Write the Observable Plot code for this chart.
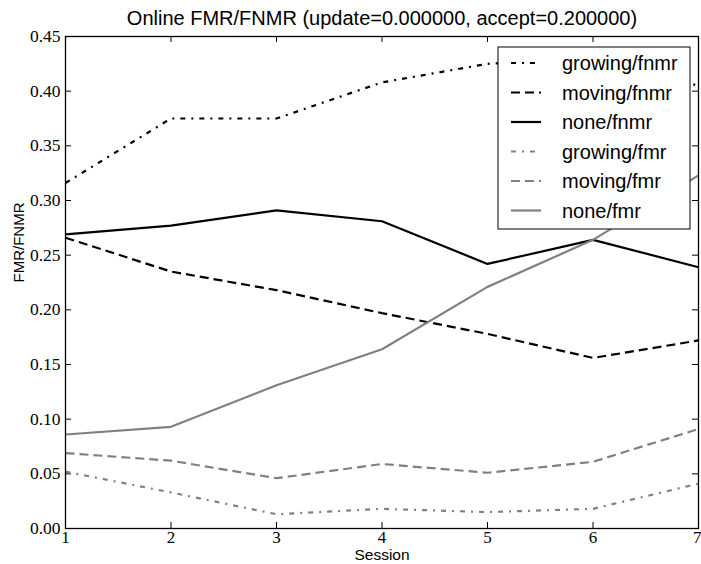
<!DOCTYPE html>
<html>
<head>
<meta charset="utf-8">
<script src="https://cdn.jsdelivr.net/npm/d3@7"></script>
<script src="https://cdn.jsdelivr.net/npm/@observablehq/plot@0.6"></script>
<style>
  html, body { margin: 0; padding: 0; background: #fff; }
  #chart svg { display: block; }
</style>
</head>
<body>
<div id="chart"></div>
<script>
const sessions = [1, 2, 3, 4, 5, 6, 7];
const growingFnmr = [0.316, 0.375, 0.375, 0.408, 0.425, 0.430, 0.405];
const movingFnmr  = [0.266, 0.235, 0.218, 0.197, 0.178, 0.156, 0.172];
const noneFnmr    = [0.269, 0.277, 0.291, 0.281, 0.242, 0.264, 0.239];
const growingFmr  = [0.052, 0.033, 0.013, 0.018, 0.015, 0.018, 0.041];
const movingFmr   = [0.069, 0.062, 0.046, 0.059, 0.051, 0.061, 0.091];
const noneFmr     = [0.086, 0.093, 0.131, 0.164, 0.221, 0.264, 0.323];

const seriesNames = ["growing/fnmr", "moving/fnmr", "none/fnmr", "growing/fmr", "moving/fmr", "none/fmr"];
const seriesValues = [growingFnmr, movingFnmr, noneFnmr, growingFmr, movingFmr, noneFmr];
const yTicks = [0, 0.05, 0.10, 0.15, 0.20, 0.25, 0.30, 0.35, 0.40, 0.45];
const xTicks = [1, 2, 3, 4, 5, 6, 7];

const titleText = "Online FMR/FNMR (update=0.000000, accept=0.200000)";
const xLabel = "Session";
const yLabel = "FMR/FNMR";

const styleFor = (name) => ({
  stroke: name.endsWith("fnmr") ? "#000000" : "#808080",
  dash: name.startsWith("growing") ? "5,6,2,6" : name.startsWith("moving") ? "9,5" : null
});

const W = 701, H = 564;
const mL = 65, mR = 3, mT = 36, mB = 36;
const plotW = W - mL - mR, plotH = H - mT - mB;
const tickLen = 6;

const rows = [];
seriesNames.forEach((name, i) => {
  seriesValues[i].forEach((v, j) => rows.push({series: name, session: sessions[j], value: v}));
});

const lineMarks = seriesNames.map((name) => {
  const s = styleFor(name);
  return Plot.line(rows.filter(d => d.series === name), {
    x: "session", y: "value",
    stroke: s.stroke, strokeWidth: 2.2, strokeDasharray: s.dash,
    strokeLinejoin: "miter", strokeLinecap: "butt"
  });
});

const serif = "'Liberation Serif', 'DejaVu Serif', serif";
const sans = "'Liberation Sans', Arial, sans-serif";

const xTickStyle = {frameAnchor: "bottom", dy: 2, lineAnchor: "top", fontFamily: serif, fontSize: 17, fill: "#000"};

const chart = Plot.plot({
  width: W, height: H,
  marginLeft: mL, marginRight: mR, marginTop: mT, marginBottom: mB,
  style: {fontFamily: sans, fontSize: "17px", color: "#000", background: "#fff", overflow: "visible"},
  x: {domain: [1, 7], axis: null},
  y: {domain: [0, 0.45], axis: null},
  marks: [
    // tick labels (serif, like the reference)
    Plot.text(yTicks, {y: d => d, text: d => d.toFixed(2), frameAnchor: "left", dx: -5, textAnchor: "end",
      fontFamily: serif, fontSize: 17.5, fill: "#000", lineAnchor: "middle"}),
    Plot.text(xTicks.slice(0, -1), {x: d => d, text: d => String(d), ...xTickStyle}),
    Plot.text(xTicks.slice(-1), {x: d => d, text: d => String(d), ...xTickStyle, textAnchor: "end", dx: 3}),
    // inward ticks on all four sides
    Plot.ruleY(yTicks, {y: d => d, insetRight: plotW - tickLen, stroke: "#000", strokeWidth: 1}),
    Plot.ruleY(yTicks, {y: d => d, insetLeft: plotW - tickLen, stroke: "#000", strokeWidth: 1}),
    Plot.ruleX(xTicks, {x: d => d, insetTop: plotH - tickLen, stroke: "#000", strokeWidth: 1}),
    Plot.ruleX(xTicks, {x: d => d, insetBottom: plotH - tickLen, stroke: "#000", strokeWidth: 1}),
    ...lineMarks,
    Plot.frame({stroke: "#000", strokeWidth: 1.3}),
    Plot.text([titleText], {text: d => d, frameAnchor: "top", dy: -18, fontFamily: sans, fontSize: 20, fill: "#000", lineAnchor: "middle"}),
    Plot.text([xLabel], {text: d => d, frameAnchor: "bottom", dy: 27, fontFamily: sans, fontSize: 15.5, fill: "#000", lineAnchor: "middle"}),
    Plot.text([yLabel], {text: d => d, frameAnchor: "left", dx: -46, rotate: -90, fontFamily: sans, fontSize: 15, fill: "#000", lineAnchor: "middle"})
  ]
});

document.getElementById("chart").appendChild(chart);

// Legend (upper right, inside the axes)
const svg = d3.select(chart);
const lg = svg.append("g").attr("class", "legend");
const lx = 498, ly = 47, lw = 192, lh = 182;
lg.append("rect").attr("x", lx).attr("y", ly).attr("width", lw).attr("height", lh)
  .attr("fill", "#fff").attr("stroke", "#000").attr("stroke-width", 1);
seriesNames.forEach((name, i) => {
  const s = styleFor(name);
  const cy = ly + 16 + i * 29.5;
  lg.append("line").attr("x1", lx + 13).attr("x2", lx + 43).attr("y1", cy).attr("y2", cy)
    .attr("stroke", s.stroke).attr("stroke-width", 2.2)
    .attr("stroke-dasharray", s.dash);
  lg.append("text").attr("x", lx + 64).attr("y", cy).attr("dy", "0.35em")
    .attr("text-anchor", "start")
    .attr("font-family", sans).attr("font-size", 20).attr("fill", "#000").text(name);
});
</script>
</body>
</html>
